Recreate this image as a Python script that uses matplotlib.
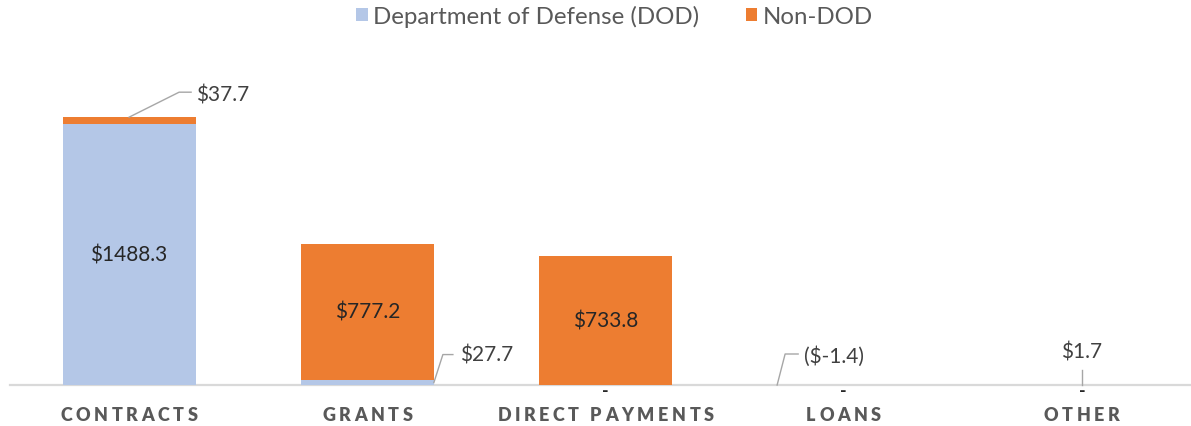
import numpy as np
import matplotlib
matplotlib.use("Agg")
import matplotlib.pyplot as plt
from matplotlib.patches import Patch
from matplotlib.lines import Line2D
from matplotlib.transforms import IdentityTransform
from matplotlib.textpath import TextToPath
from matplotlib.font_manager import FontProperties

# ---------------- data ----------------
categories = ["CONTRACTS", "GRANTS", "DIRECT PAYMENTS", "LOANS", "OTHER"]
dod = [1488.3, 27.7, 0.0, 0.0, 0.0]
non_dod = [37.7, 777.2, 733.8, -1.4, 1.7]
series_names = ["Department of Defense (DOD)", "Non-DOD"]

BLUE = "#B4C7E7"
ORANGE = "#ED7D31"
AXIS = "#D9D9D9"
LABEL_OUT = "#404040"
LABEL_IN = "#262626"
CAT_COLOR = "#595959"
FONT = "Lato"

W, H = 1191, 427
DPI = 100
fig = plt.figure(figsize=(W / DPI, H / DPI), dpi=DPI)
ax = fig.add_axes([10 / W, 41 / H, 1181 / W, 346 / H])

x = np.arange(len(categories))
bw = 0.559
ax.bar(x, dod, bw, color=BLUE, zorder=2)
ax.bar(x, non_dod, bw, bottom=dod, color=ORANGE, zorder=2)
ax.set_xlim(-0.5, 4.458)
ax.set_ylim(0, 1971.5)
for s in ["top", "left", "right"]:
    ax.spines[s].set_visible(False)
ax.spines["bottom"].set_color(AXIS)
ax.spines["bottom"].set_linewidth(1.6)
ax.spines["bottom"].set_zorder(1)
ax.set_xticks([])
ax.set_yticks([])
ax.patch.set_alpha(0)

I = IdentityTransform()


def fmt(v):
    if v == 0:
        return "-"
    if v < 0:
        return "($-{:.1f})".format(abs(v))
    return "${:.1f}".format(v)


def px(xd, yd):
    return ax.transData.transform((xd, yd))


def label(xp, yp, s, color=LABEL_OUT, ha="center", va="center", size=15,
          weight="normal"):
    fig.text(xp, yp, s, transform=I, ha=ha, va=va, color=color,
             fontsize=size, family=FONT, fontweight=weight)


def leader(points):
    xs = [p[0] for p in points]
    ys = [p[1] for p in points]
    fig.add_artist(Line2D(xs, ys, transform=I, color="#A6A6A6", lw=1.0))


# inside labels
ax_x, ax_y = px(0, dod[0] / 2)
label(ax_x, ax_y, fmt(dod[0]), color=LABEL_IN)
gx, gy = px(1, dod[1] + non_dod[1] / 2)
label(gx, gy, fmt(non_dod[1]), color=LABEL_IN)
dx_, dy_ = px(2, dod[2] + non_dod[2] / 2)
label(dx_, dy_, fmt(non_dod[2]), color=LABEL_IN)

# contracts non-DOD callout (anchor: bar top centre)
a = px(0, dod[0] + non_dod[0])
leader([a, (a[0] + 50, a[1] + 25), (a[0] + 62, a[1] + 25)])
label(a[0] + 67, a[1] + 23, fmt(non_dod[0]), ha="left")

# grants DOD callout (anchor: right edge of DOD segment)
a = px(1 + bw / 2, dod[1] / 2)
leader([a, (a[0] + 9, a[1] + 28), (a[0] + 19, a[1] + 28)])
label(a[0] + 26, a[1] + 28, fmt(dod[1]), ha="left")

# loans non-DOD callout (anchor: left edge at value)
a = px(3 - bw / 2, 0)
leader([a, (a[0] + 8, a[1] + 31), (a[0] + 21, a[1] + 31)])
label(a[0] + 27, a[1] + 29, fmt(non_dod[3]), ha="left")

# other non-DOD callout (vertical)
a = px(4, dod[4] + non_dod[4])
leader([a, (a[0], a[1] + 15)])
label(a[0], a[1] + 33, fmt(non_dod[4]))

# zero DOD labels just below axis
for i in range(2, 5):
    p = px(i, 0)
    label(p[0], p[1] - 6, fmt(dod[i]), color=LABEL_IN, size=13, weight="bold")

# category labels with letter spacing
prop = FontProperties(family=FONT, weight="heavy", size=13)
ttp = TextToPath()


def width_px(s):
    if not s:
        return 0.0
    w, h, d = ttp.get_text_width_height_descent(s, prop, ismath=False)
    return w * DPI / 72.0


tracking = (137 - width_px("CONTRACTS")) / 8.0
for i, cat in enumerate(categories):
    cx = px(i, 0)[0]
    total = width_px(cat) + (len(cat) - 1) * tracking
    start = cx - total / 2
    for j, ch in enumerate(cat):
        if ch == " ":
            continue
        xpos = start + width_px(cat[:j]) + j * tracking
        fig.text(xpos, 5.5, ch, transform=I, ha="left", va="baseline",
                 fontproperties=prop, color=CAT_COLOR)

# legend
handles = [Patch(facecolor=BLUE, edgecolor="none"),
           Patch(facecolor=ORANGE, edgecolor="none")]
fig.legend(handles, series_names, loc="center", ncol=2,
           bbox_to_anchor=(614.5 / W, 1 - 17 / H), frameon=False,
           prop=FontProperties(family=FONT, size=17.3),
           labelcolor=CAT_COLOR, handlelength=0.48, handleheight=0.48,
           handletextpad=0.22, columnspacing=1.95, borderpad=0)

fig.savefig("out.png", dpi=DPI)
